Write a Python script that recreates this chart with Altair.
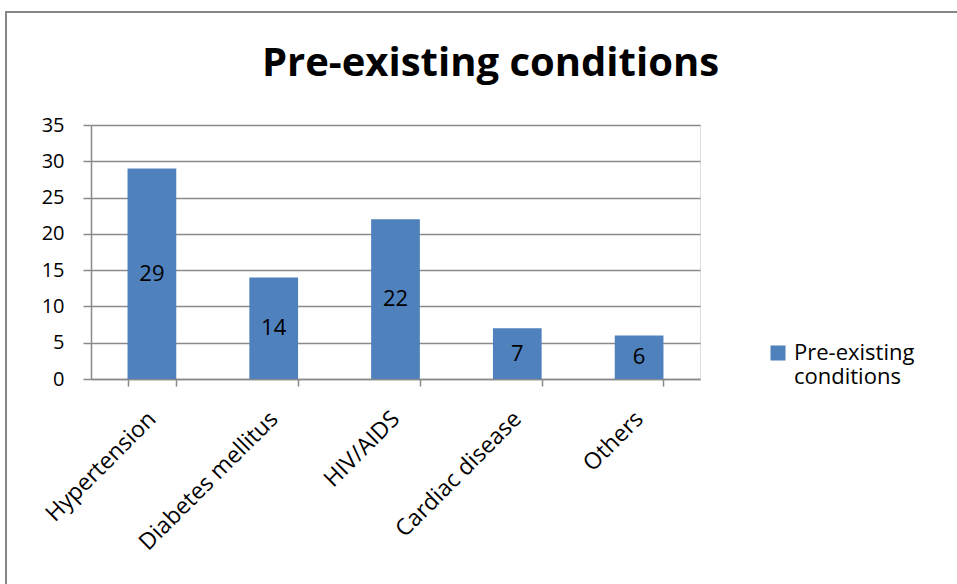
import altair as alt
import pandas as pd

# Counts of pre-existing conditions among patients
conditions = ["Hypertension", "Diabetes mellitus", "HIV/AIDS", "Cardiac disease", "Others"]
counts = [29, 14, 22, 7, 6]
series_name = "Pre-existing conditions"

df = pd.DataFrame({"condition": conditions, "count": counts, "series": series_name})

FONT = "Open Sans"
BAR_COLOR = "#4F81BD"
GRID = "#8A8A8A"

x_axis = alt.Axis(
    labelAngle=-45,
    labelAlign="right",
    labelBaseline="middle",
    labelFontSize=23,
    labelFont=FONT,
    labelColor="black",
    labelPadding=29,
    labelLimit=400,
    tickBand="extent",
    tickSize=7,
    tickColor=GRID,
    tickWidth=1.5,
    domainColor=GRID,
    domainWidth=1.5,
    grid=False,
)

y_axis = alt.Axis(
    values=[0, 5, 10, 15, 20, 25, 30, 35],
    labelFontSize=20,
    labelFont=FONT,
    labelColor="black",
    labelPadding=19,
    tickSize=8,
    tickColor=GRID,
    tickWidth=1.5,
    domainColor=GRID,
    domainWidth=1.5,
    gridColor=GRID,
    gridWidth=1.5,
)

x_scale = alt.Scale(paddingInner=0.6, paddingOuter=0.3)
y_scale = alt.Scale(domain=[0, 35])

bars = alt.Chart(df).mark_bar(color=BAR_COLOR).encode(
    x=alt.X("condition:N", sort=conditions, title=None, scale=x_scale, axis=x_axis),
    y=alt.Y("count:Q", title=None, scale=y_scale, axis=y_axis),
    color=alt.Color(
        "series:N",
        scale=alt.Scale(range=[BAR_COLOR]),
        legend=alt.Legend(
            title=None,
            orient="none",
            legendX=676,
            legendY=217,
            symbolType="square",
            symbolSize=225,
            symbolStrokeWidth=0,
            labelFontSize=22,
            labelFont=FONT,
            labelColor="black",
            labelExpr="split(datum.label, ' ')",
            labelOffset=5,
        ),
    ),
)

# Value labels centred inside each bar
labels = alt.Chart(df).transform_calculate(
    mid="datum.count / 2"
).mark_text(font=FONT, fontSize=22, color="black").encode(
    x=alt.X("condition:N", sort=conditions, title=None, scale=x_scale, axis=x_axis),
    y=alt.Y("mid:Q", title=None, scale=y_scale, axis=y_axis),
    text="count:Q",
)

# Outer frame around the whole chart
frame = alt.Chart(df.head(1)).mark_rect(
    fill=None, stroke="#878787", strokeWidth=2
).encode(
    x=alt.value(-85), x2=alt.value(880), y=alt.value(-113), y2=alt.value(500)
)

chart = alt.layer(frame, bars, labels).properties(
    width=609,
    height=254,
    title=alt.TitleParams(
        series_name,
        font=FONT,
        fontSize=40,
        fontWeight="bold",
        color="black",
        anchor="middle",
        frame="group",
        baseline="alphabetic",
        dx=95,
        offset=-105,
    ),
    autosize=alt.AutoSizeParams(type="none"),
    padding={"left": 91, "top": 125, "right": 257, "bottom": 205},
).configure_view(stroke=None).configure(background="white")

chart.save("out.html", embed_options={"renderer": "svg", "actions": False})
